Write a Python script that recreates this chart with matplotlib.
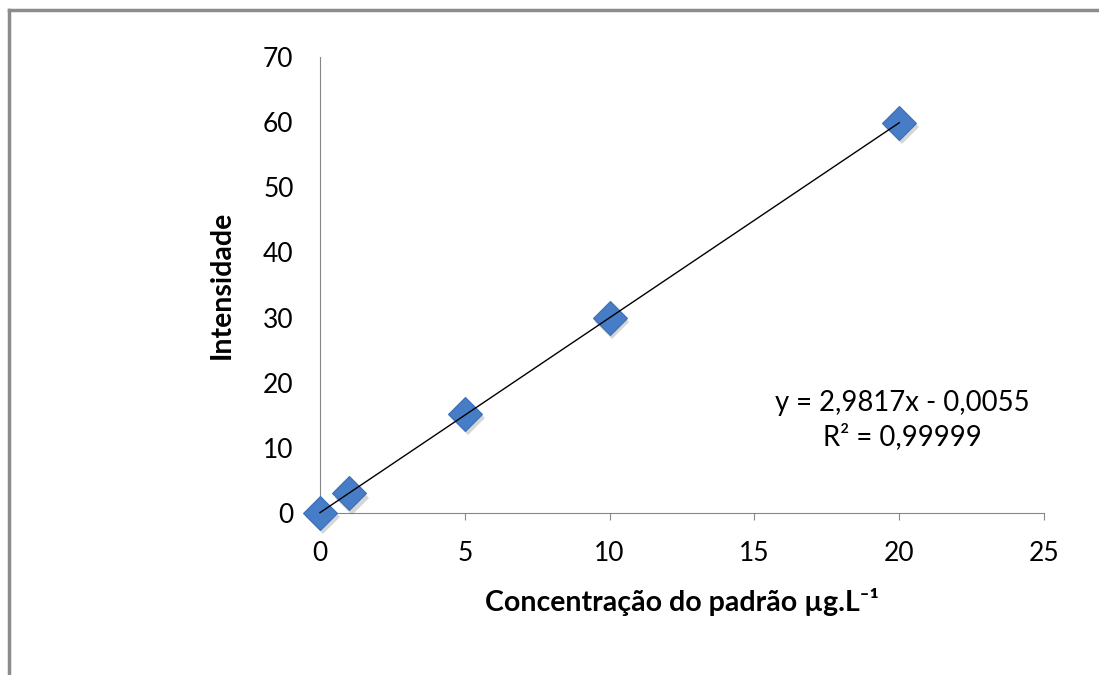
import matplotlib.pyplot as plt
import matplotlib.transforms as mtransforms
import numpy as np
from matplotlib.lines import Line2D

# Data
conc = [0, 1, 5, 10, 20]
intens = [0.0, 3.0, 15.2, 29.9, 59.9]
x_ticks = [0, 5, 10, 15, 20, 25]
y_ticks = [0, 10, 20, 30, 40, 50, 60, 70]
eq_text = "y = 2,9817x - 0,0055\nR² = 0,99999"

plt.rcParams['font.family'] = ['Lato', 'DejaVu Sans']

fig = plt.figure(figsize=(10.99, 6.75), dpi=100)
ax = fig.add_axes([320/1099, 1-513/675, (1044-320)/1099, (513-57)/675])

# outer frame (top + left only visible)
fig.add_artist(Line2D([9/1099, 9/1099], [0, 1-10/675], color='#8c8c8c', lw=2.5))
fig.add_artist(Line2D([9/1099, 1], [1-10/675, 1-10/675], color='#8c8c8c', lw=2.5))

# linear trendline
a, b = np.polyfit(conc, intens, 1)
xl = np.array([min(conc), max(conc)])
ax.plot(xl, a*xl + b, color='black', lw=1, zorder=4, clip_on=False)

# soft shadow under the markers
shadow = mtransforms.offset_copy(ax.transData, fig=fig, x=2, y=-3, units='points')
ax.plot(conc, intens, linestyle='none', marker='D', markersize=17, color='#000000',
        alpha=0.16, markeredgewidth=0, transform=shadow, zorder=2, clip_on=False)
ax.plot(conc, intens, linestyle='none', marker='D', markersize=17,
        color='#467dc6', markeredgecolor='#3b6fb5', markeredgewidth=0.8, zorder=3, clip_on=False)

ax.set_xlim(0, 25)
ax.set_ylim(0, 70)
ax.set_xticks(x_ticks)
ax.set_yticks(y_ticks)
ax.tick_params(axis='x', labelsize=19, color='#868686', length=5, pad=15)
ax.tick_params(axis='y', labelsize=19, length=0, pad=19)
for s in ['top', 'right']:
    ax.spines[s].set_visible(False)
for s in ['left', 'bottom']:
    ax.spines[s].set_color('#868686')

ax.set_xlabel("Concentração do padrão µg.L⁻¹", fontsize=20.5, fontweight='bold', labelpad=16)
ax.set_ylabel("Intensidade", fontsize=20.5, fontweight='bold', labelpad=20)

ax.text(902/1099, 1-420/675, eq_text, transform=fig.transFigure, ha='center', va='center',
        fontsize=19.8, linespacing=1.3)

fig.savefig('out.png', dpi=100)
